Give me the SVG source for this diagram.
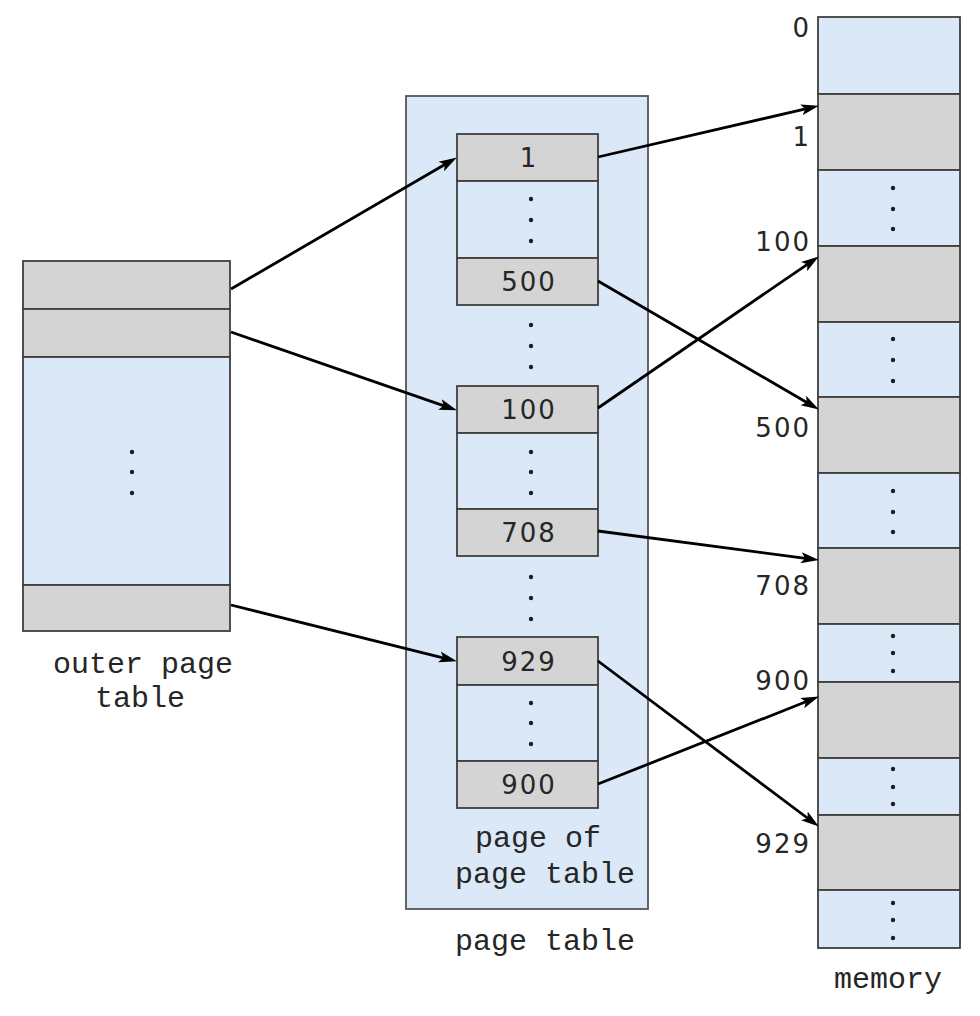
<svg xmlns="http://www.w3.org/2000/svg" width="980" height="1016" viewBox="0 0 980 1016">
<style>
.bg{fill:#ffffff}
.blue{fill:#dbe8f7;stroke:#3f3f3f;stroke-width:1.8}
.gray{fill:#d4d4d4;stroke:#3f3f3f;stroke-width:1.8}
.frame{fill:#dbe8f7;stroke:#555;stroke-width:1.8}
.dot{fill:#1e1e1e}
.num{font-family:"DejaVu Sans","Liberation Sans",sans-serif;font-size:26px;fill:#262626;letter-spacing:2px}
.lbl{font-family:"Liberation Mono","Courier New",monospace;font-size:30px;fill:#262626}
.conn{stroke:#000;stroke-width:2.8;fill:none;marker-end:url(#ah)}
</style>
<defs>
<marker id="ah" markerUnits="userSpaceOnUse" viewBox="0 0 18 12" markerWidth="18" markerHeight="12" refX="12" refY="6" orient="auto">
<path d="M0,0.5 L18,6 L0,11.5 L4,6 z" fill="#000"/>
</marker>
</defs>
<rect class="bg" x="0" y="0" width="980" height="1016"/>

<g id="outer-page-table">
<rect class="gray" x="23" y="261" width="207" height="48"/>
<rect class="gray" x="23" y="309" width="207" height="48"/>
<rect class="blue" x="23" y="357" width="207" height="228"/>
<rect class="gray" x="23" y="585" width="207" height="46"/>
<circle class="dot" cx="132" cy="452" r="2.2"/>
<circle class="dot" cx="132" cy="472" r="2.2"/>
<circle class="dot" cx="132" cy="493" r="2.2"/>
<text class="lbl" x="53" y="673">outer page</text>
<text class="lbl" x="95" y="707">table</text>
</g>

<g id="page-table">
<rect class="frame" x="406" y="96" width="242" height="813"/>
<circle class="dot" cx="531" cy="325" r="2.2"/>
<circle class="dot" cx="531" cy="346" r="2.2"/>
<circle class="dot" cx="531" cy="367" r="2.2"/>
<circle class="dot" cx="531" cy="577" r="2.2"/>
<circle class="dot" cx="531" cy="598" r="2.2"/>
<circle class="dot" cx="531" cy="619" r="2.2"/>
<text class="lbl" x="475" y="847">page of</text>
<text class="lbl" x="455" y="883">page table</text>
<text class="lbl" x="455" y="950">page table</text>
</g>

<g id="pt-block-1">
<rect class="gray" x="457" y="134" width="141" height="47"/>
<rect class="blue" x="457" y="181" width="141" height="77"/>
<rect class="gray" x="457" y="258" width="141" height="47"/>
<circle class="dot" cx="531" cy="199" r="2.2"/>
<circle class="dot" cx="531" cy="220" r="2.2"/>
<circle class="dot" cx="531" cy="241" r="2.2"/>
<text class="num" x="529" y="167" text-anchor="middle">1</text>
<text class="num" x="529" y="291" text-anchor="middle">500</text>
</g>

<g id="pt-block-2">
<rect class="gray" x="457" y="386" width="141" height="47"/>
<rect class="blue" x="457" y="433" width="141" height="76"/>
<rect class="gray" x="457" y="509" width="141" height="47"/>
<circle class="dot" cx="531" cy="452" r="2.2"/>
<circle class="dot" cx="531" cy="472" r="2.2"/>
<circle class="dot" cx="531" cy="493" r="2.2"/>
<text class="num" x="529" y="419" text-anchor="middle">100</text>
<text class="num" x="529" y="542" text-anchor="middle">708</text>
</g>

<g id="pt-block-3">
<rect class="gray" x="457" y="637" width="141" height="48"/>
<rect class="blue" x="457" y="685" width="141" height="76"/>
<rect class="gray" x="457" y="761" width="141" height="47"/>
<circle class="dot" cx="531" cy="703" r="2.2"/>
<circle class="dot" cx="531" cy="723" r="2.2"/>
<circle class="dot" cx="531" cy="744" r="2.2"/>
<text class="num" x="529" y="671" text-anchor="middle">929</text>
<text class="num" x="529" y="794" text-anchor="middle">900</text>
</g>

<g id="memory">
<rect class="blue" x="818" y="17" width="142" height="77"/>
<rect class="gray" x="818" y="94" width="142" height="76"/>
<rect class="blue" x="818" y="170" width="142" height="76"/>
<rect class="gray" x="818" y="246" width="142" height="76"/>
<rect class="blue" x="818" y="322" width="142" height="75"/>
<rect class="gray" x="818" y="397" width="142" height="76"/>
<rect class="blue" x="818" y="473" width="142" height="75"/>
<rect class="gray" x="818" y="548" width="142" height="76"/>
<rect class="blue" x="818" y="624" width="142" height="58"/>
<rect class="gray" x="818" y="682" width="142" height="76"/>
<rect class="blue" x="818" y="758" width="142" height="57"/>
<rect class="gray" x="818" y="815" width="142" height="75"/>
<rect class="blue" x="818" y="890" width="142" height="58"/>
<circle class="dot" cx="893" cy="188" r="2.2"/>
<circle class="dot" cx="893" cy="209" r="2.2"/>
<circle class="dot" cx="893" cy="229" r="2.2"/>
<circle class="dot" cx="893" cy="339" r="2.2"/>
<circle class="dot" cx="893" cy="360" r="2.2"/>
<circle class="dot" cx="893" cy="381" r="2.2"/>
<circle class="dot" cx="893" cy="491" r="2.2"/>
<circle class="dot" cx="893" cy="512" r="2.2"/>
<circle class="dot" cx="893" cy="532" r="2.2"/>
<circle class="dot" cx="893" cy="636" r="2.2"/>
<circle class="dot" cx="893" cy="653" r="2.2"/>
<circle class="dot" cx="893" cy="671" r="2.2"/>
<circle class="dot" cx="893" cy="769" r="2.2"/>
<circle class="dot" cx="893" cy="787" r="2.2"/>
<circle class="dot" cx="893" cy="804" r="2.2"/>
<circle class="dot" cx="893" cy="903" r="2.2"/>
<circle class="dot" cx="893" cy="920" r="2.2"/>
<circle class="dot" cx="893" cy="938" r="2.2"/>
<text class="num" x="811" y="37" text-anchor="end">0</text>
<text class="num" x="811" y="146" text-anchor="end">1</text>
<text class="num" x="811" y="251" text-anchor="end">100</text>
<text class="num" x="811" y="437" text-anchor="end">500</text>
<text class="num" x="811" y="595" text-anchor="end">708</text>
<text class="num" x="811" y="690" text-anchor="end">900</text>
<text class="num" x="811" y="853" text-anchor="end">929</text>
<text class="lbl" x="834" y="988">memory</text>
</g>

<g id="connectors">
<line class="conn" x1="231" y1="289" x2="451.7" y2="160.5"/>
<line class="conn" x1="231" y1="332" x2="451.3" y2="408.4"/>
<line class="conn" x1="231" y1="605" x2="451.1" y2="659.8"/>
<line class="conn" x1="598" y1="157" x2="813.1" y2="107.1"/>
<line class="conn" x1="598" y1="281" x2="813.7" y2="406.5"/>
<line class="conn" x1="598" y1="408" x2="813.9" y2="259.8"/>
<line class="conn" x1="598" y1="531" x2="813" y2="559.3"/>
<line class="conn" x1="598" y1="661" x2="814" y2="823"/>
<line class="conn" x1="598" y1="784" x2="813.4" y2="698.8"/>
</g>
</svg>
